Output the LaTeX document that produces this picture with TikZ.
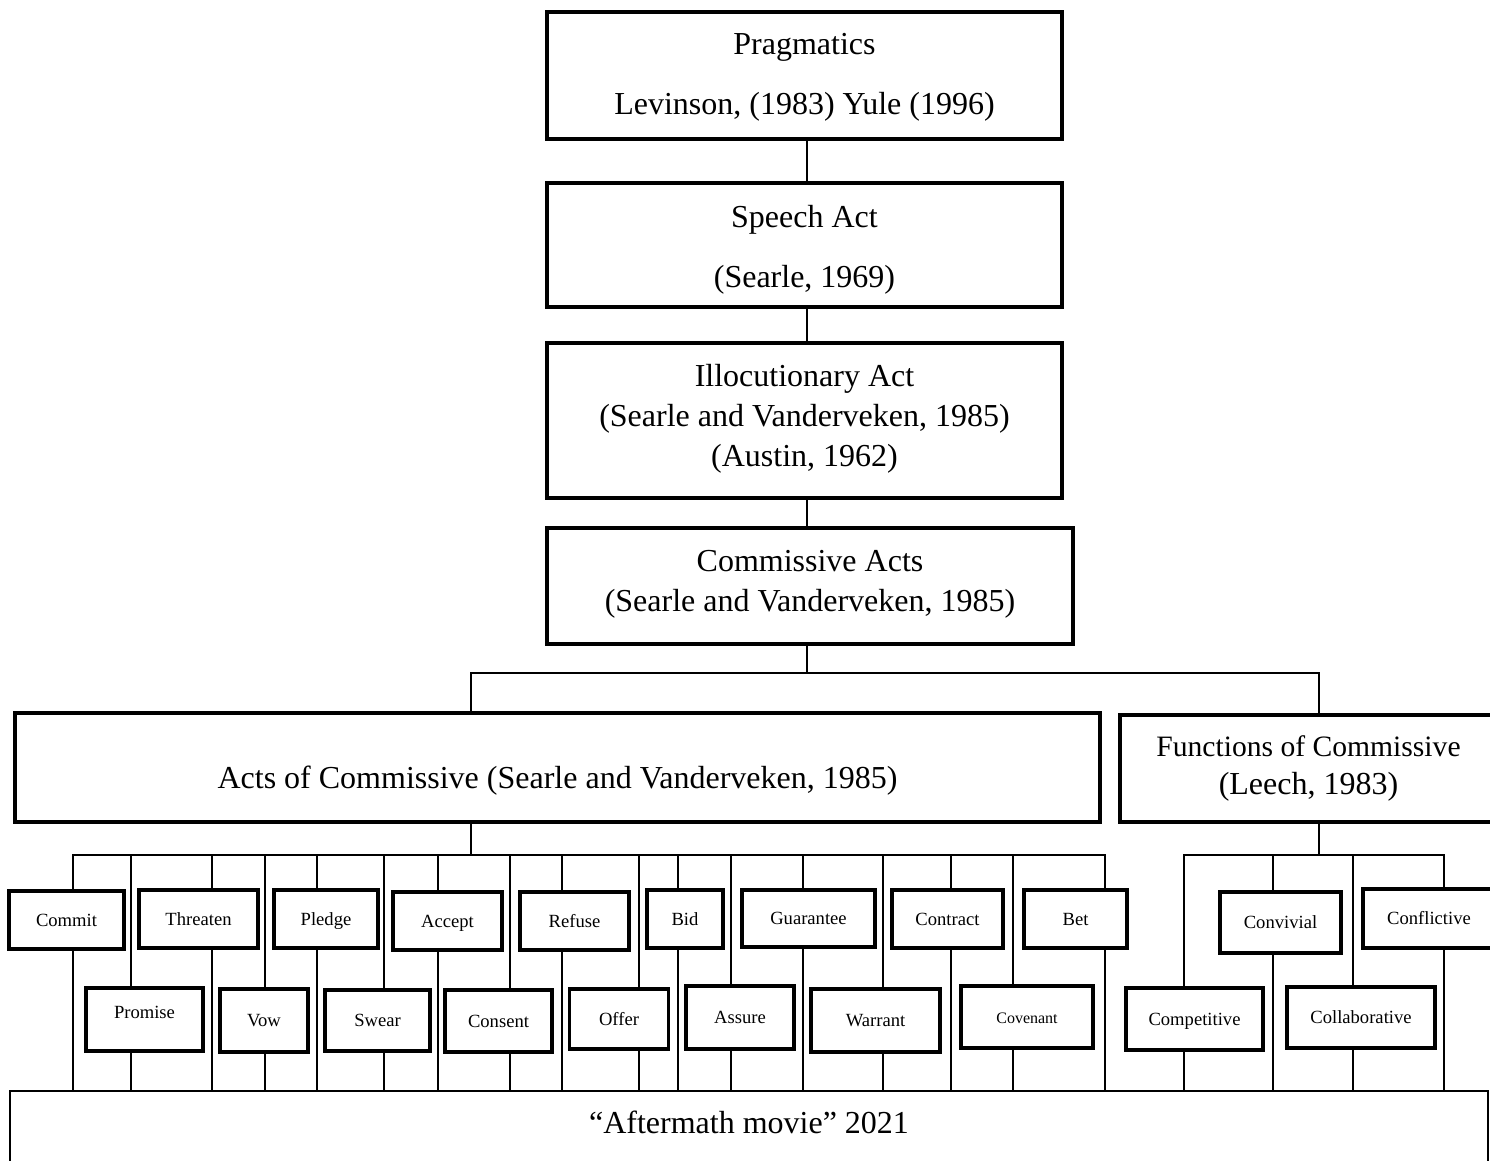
\documentclass[tikz,border=0pt]{standalone}
\usepackage{fontspec}
\setmainfont{Liberation Serif}
\usetikzlibrary{backgrounds}
\newcommand\RaiseTxt[2]{\raisebox{#1}[\height][\depth]{#2}}
\newcommand\MultiLn[3][16]{{\fontsize{#1}{#2}\selectfont\begin{tabular}{@{}c@{}}#3\end{tabular}}}
\tikzset{
  box/.style={draw, line width=1.6pt, fill=white, inner sep=0pt},
  big/.style={box, font=\fontsize{16}{20}\selectfont},
  sm/.style={box, font=\fontsize{9.3}{11}\selectfont, text height=7pt, text depth=0.9pt},
  wh/.style 2 args={minimum width=#1*0.5pt, minimum height=#2*0.5pt},
  conn/.style={line width=1pt},
}
\begin{document}
\begin{tikzpicture}[x=0.5pt, y=-0.5pt]
\useasboundingbox (0,0) rectangle (1490,1161);
\clip (0,0) rectangle (1490,1161);

% main chain
\node[big, wh={515}{127}] (prag) at (804.5,75.5) {\RaiseTxt{1.25pt}{\MultiLn{30}{Pragmatics\\Levinson, (1983) Yule (1996)}}};
\node[big, wh={515}{124}] (speech) at (804.5,245) {\MultiLn{30}{Speech Act\\(Searle, 1969)}};
\node[big, wh={515}{155}] (illoc) at (804.5,420.5) {\RaiseTxt{1.25pt}{\MultiLn{20}{Illocutionary Act\\(Searle and Vanderveken, 1985)\\(Austin, 1962)}}};
\node[big, wh={526}{116}] (commis) at (810,586) {\RaiseTxt{1.5pt}{\MultiLn{20}{Commissive Acts\\(Searle and Vanderveken, 1985)}}};
\node[big, wh={1085}{109}] (acts) at (557.5,767.5) {\RaiseTxt{-6.75pt}{Acts of Commissive (Searle and Vanderveken, 1985)}};
\node[big, wh={377}{107}] (func) at (1308.5,768.5) {\RaiseTxt{0.25pt}{\MultiLn{19}{{\fontsize{14.8}{19}\selectfont Functions of Commissive}\\(Leech, 1983)}}};
\node[big, line width=1.1pt, wh={1478}{140}] (after) at (749,1161) {\RaiseTxt{19.5pt}{“Aftermath movie” 2021}};

% acts of commissive: first row
\node[sm, wh={115}{58}] (commit) at (66.5,920) {Commit};
\node[sm, wh={119}{58}] (threaten) at (198.5,919) {Threaten};
\node[sm, wh={104}{58}] (pledge) at (326,919) {Pledge};
\node[sm, wh={109}{58}] (accept) at (447.5,921) {Accept};
\node[sm, wh={109}{58}] (refuse) at (574.5,921) {Refuse};
\node[sm, wh={76}{58}] (bid) at (685,919) {Bid};
\node[sm, wh={133}{57}] (guarantee) at (808.5,918.5) {Guarantee};
\node[sm, wh={111}{58}] (contract) at (947.5,919) {Contract};
\node[sm, wh={103}{58}] (bet) at (1075.5,919) {Bet};
% second row
\node[sm, wh={117}{63}] (promise) at (144.5,1019.5) {\RaiseTxt{3.75pt}{Promise}};
\node[sm, wh={88}{63}] (vow) at (264,1020.5) {Vow};
\node[sm, wh={105}{61}] (swear) at (377.5,1020.5) {Swear};
\node[sm, wh={107}{62}] (consent) at (498.5,1021) {Consent};
\node[sm, wh={99.5}{60}] (offer) at (619,1019) {Offer};
\node[sm, wh={108}{63}] (assure) at (740,1017.5) {Assure};
\node[sm, wh={129}{63}] (warrant) at (875.5,1020.5) {Warrant};
\node[sm, wh={132}{62}, font=\fontsize{8}{10}\selectfont] (covenant) at (1027,1017) {Covenant};

% functions of commissive
\node[sm, wh={121}{61}] (convivial) at (1280.5,922.5) {Convivial};
\node[sm, wh={132}{59}] (conflictive) at (1429,918.5) {Conflictive};
\node[sm, wh={137}{62}] (competitive) at (1194.5,1019) {Competitive};
\node[sm, wh={148}{61}] (collaborative) at (1361,1017.5) {Collaborative};

% connectors
\coordinate (sp) at (806.5,673);
\coordinate (fl) at (471,673);
\coordinate (fr) at (1318.5,673);
\coordinate (bl) at (471,855);
\coordinate (busL) at (73,855);
\coordinate (busR) at (1104.5,855);
\coordinate (fb) at (1318.5,855);
\coordinate (fbL) at (1184,855);
\coordinate (fbR) at (1444,855);

\begin{scope}[on background layer]
\draw[conn] (prag.south -| sp) -- (speech.north -| sp);
\draw[conn] (speech.south -| sp) -- (illoc.north -| sp);
\draw[conn] (illoc.south -| sp) -- (commis.north -| sp);
\draw[conn] (commis.south -| sp) -- (sp);
\draw[conn] (fl |- acts.north) -- (fl) -- (fr) -- (fr |- func.north);
\draw[conn] (acts.south -| bl) -- (bl);
\draw[conn] (func.south -| fb) -- (fb);
\draw[conn] (busL |- after.north) -- (busL) -- (busR) -- (busR |- after.north);
\foreach \x in {131,212,265,317,384,437.5,510,562,639,678,731,802.5,882.5,951,1013}
  \draw[conn] (\x,0 |- busL) -- (\x,0 |- after.north);
\draw[conn] (fbL |- after.north) -- (fbL) -- (fbR) -- (fbR |- after.north);
\foreach \x in {1273,1353}
  \draw[conn] (\x,0 |- fbL) -- (\x,0 |- after.north);
\end{scope}
\end{tikzpicture}
\end{document}
